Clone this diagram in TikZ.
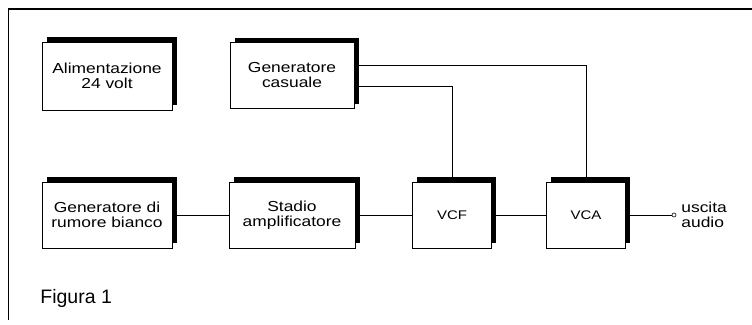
\documentclass[tikz,border=0pt]{standalone}
\usepackage{fontspec}
\setmainfont{Liberation Sans}
\newfontfamily\blockfont[FakeStretch=1.2]{Liberation Sans}
\usetikzlibrary{shadows}
\usetikzlibrary{positioning}

\begin{document}
\begin{tikzpicture}[x = 1pt, y = -1pt, line width = 0.8pt,
						main node/.style = {rectangle, draw, fill = white, align = center, minimum width = 130pt, minimum height = 66pt, inner sep = 2pt,
							font = \blockfont\fontsize{14.5}{15}\selectfont,
							drop shadow = {shadow xshift = 4.5pt, shadow yshift = 5pt, fill = black, opacity = 1}},
						small node/.style = {main node, minimum width = 79pt, font = \blockfont\fontsize{12.5}{14}\selectfont}]
		\useasboundingbox (0,0) rectangle (752,324);
		\draw[line width = 1.3pt] (752,9) -- (8,9);
		\draw (8,9) -- (8,320);

		\node[main node] (rumore) at (107,215) {Generatore di\\rumore bianco};
		\node[main node, minimum width = 126pt] (stadio) [right of = rumore, node distance = 185pt] {Stadio\\amplificatore};
		\node[small node] (vcf) [right of = stadio, node distance = 160pt] {VCF};
		\node[small node] (vca) [right of = vcf, node distance = 134pt] {VCA};

		\node[main node, minimum height = 68pt] (alim) [above of = rumore, node distance = 139pt] {Alimentazione\\24 volt};
		\node[main node, minimum width = 124pt] (gencas) [above of = stadio, node distance = 139.5pt] {Generatore\\casuale};

		\node[circle, draw, fill = white, inner sep = 0pt, minimum size = 4pt, line width = 0.6pt] (out) [right of = vca, node distance = 88pt] {};
		\node[anchor = west, align = left, inner sep = 0pt, font = \blockfont\fontsize{14.5}{15}\selectfont] (uscita) [right = 7pt of out.center] {uscita\\audio};

		\node[anchor = base west, inner sep = 0pt, font = \fontsize{19.5}{22}\selectfont] (fig) at (40,303) {Figura 1};

		\draw (rumore) -- (stadio);
		\draw (stadio) -- (vcf);
		\draw (vcf) -- (vca);
		\draw (vca) -- (out);
		\draw ([yshift = 10.5pt] gencas.east) -| (vca.north);
		\draw ([yshift = -10.5pt] gencas.east) -| (vcf.north);
	\end{tikzpicture}
\end{document}
